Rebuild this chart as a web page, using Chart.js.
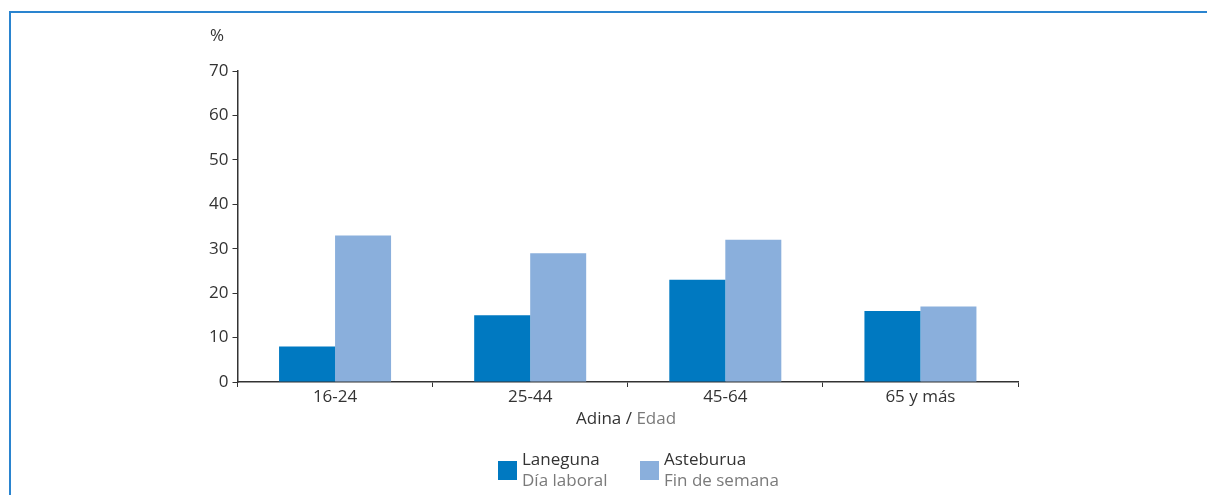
<!DOCTYPE html>
<html>
<head>
<meta charset="utf-8">
<script src="https://cdn.jsdelivr.net/npm/chart.js@4"></script>
<style>
  html, body { margin: 0; padding: 0; background: #fff; }
  body { width: 1207px; height: 495px; position: relative; overflow: hidden;
         font-family: "Open Sans", "Noto Sans", sans-serif; color: #333; }
  #marco { position: absolute; left: 9px; top: 11px; right: -5px; bottom: -5px;
           border-top: 2px solid #2a84cf; border-left: 2px solid #2a84cf; }
  #lienzo { position: absolute; left: 0; top: 0; }
  .txt { position: absolute; font-size: 17px; line-height: 21px; white-space: nowrap; }
  .gris { color: #7a7a7a; }
  .caja { position: absolute; width: 19px; height: 19px; }
</style>
</head>
<body>
<div id="marco"></div>
<canvas id="lienzo" width="1207" height="495"></canvas>

<div class="txt" style="left:210px; top:24px;">%</div>
<div class="txt" style="left:576px; top:407px;">Adina / <span class="gris">Edad</span></div>

<div class="caja" style="left:498px; top:461px; background:#0079c1;"></div>
<div class="txt" style="left:522px; top:448px;">Laneguna<br><span class="gris">Día laboral</span></div>
<div class="caja" style="left:640px; top:461px; background:#8aafdc;"></div>
<div class="txt" style="left:664px; top:448px;">Asteburua<br><span class="gris">Fin de semana</span></div>

<script>
// Datos del gráfico
var edades = ['16-24', '25-44', '45-64', '65 y más'];
var diaLaboral = [8, 15, 23, 16];
var finDeSemana = [33, 29, 32, 17];
var etiquetas = ['Laneguna / Día laboral', 'Asteburua / Fin de semana'];

var fuente = { family: '"Open Sans", "Noto Sans", sans-serif', size: 17 };

var ctx = document.getElementById('lienzo').getContext('2d');

var grafico = new Chart(ctx, {
    type: 'bar',
    data: {
        labels: edades,
        datasets: [{
            label: etiquetas[0],
            data: diaLaboral,
            backgroundColor: '#0079c1'
        }, {
            label: etiquetas[1],
            data: finDeSemana,
            backgroundColor: '#8aafdc'
        }]
    },
    options: {
        responsive: false,
        animation: false,
        layout: {
            padding: { left: 0, right: 189, top: 71, bottom: 83 }
        },
        datasets: {
            bar: { barPercentage: 1, categoryPercentage: 0.574 }
        },
        plugins: {
            legend: { display: false },
            tooltip: { enabled: false }
        },
        scales: {
            x: {
                afterFit: function(scale) { scale.height = 30; },
                grid: {
                    offset: true,
                    drawOnChartArea: false,
                    tickLength: 5,
                    color: '#333'
                },
                border: { color: '#333', width: 1.5 },
                ticks: {
                    color: '#333',
                    padding: 0,
                    font: fuente
                }
            },
            y: {
                min: 0,
                max: 70,
                afterFit: function(scale) { scale.width = 237.5; },
                grid: {
                    drawOnChartArea: false,
                    tickLength: 5,
                    color: '#333'
                },
                border: { color: '#333', width: 1.5 },
                ticks: {
                    stepSize: 10,
                    color: '#333',
                    padding: 4,
                    font: fuente
                }
            }
        }
    }
});
</script>
</body>
</html>
